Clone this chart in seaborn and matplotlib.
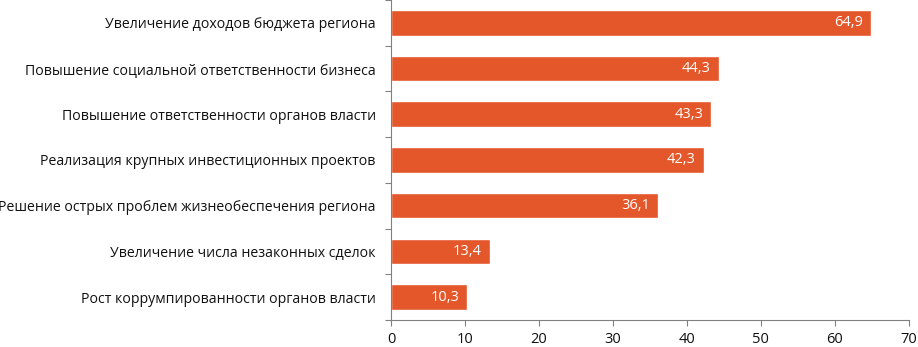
import numpy as np
import pandas as pd
import seaborn as sns
from matplotlib import pyplot as plt
from matplotlib.ticker import FixedLocator

categories = [
    'Увеличение доходов бюджета региона',
    'Повышение социальной ответственности бизнеса',
    'Повышение ответственности органов власти',
    'Реализация крупных инвестиционных проектов',
    'Решение острых проблем жизнеобеспечения региона',
    'Увеличение числа незаконных сделок',
    'Рост коррумпированности органов власти',
]
values = [64.9, 44.3, 43.3, 42.3, 36.1, 13.4, 10.3]
x_ticks = [0, 10, 20, 30, 40, 50, 60, 70]

df = pd.DataFrame({'cat': categories, 'val': values})

sns.set_style('white')
plt.rcParams['font.family'] = ['Open Sans', 'DejaVu Sans']

fig = plt.figure(figsize=(9.18, 3.47), dpi=100)
ax = fig.add_axes([0.426, 0.078, 0.564, 0.922])
sns.barplot(data=df, x='val', y='cat', color='#E4572A', width=0.56,
            saturation=1, ax=ax)

for i, v in enumerate(values):
    ax.text(v - 1.1, i, ('%.1f' % v).replace('.', ','), color='white',
            ha='right', va='center', fontsize=10.5)

ax.set_xlim(0, 70)
ax.set_ylim(len(categories) - 0.5, -0.5)
ax.set_xticks(x_ticks)
ax.set_xlabel('')
ax.set_ylabel('')
ax.tick_params(axis='x', labelsize=10.5, length=4, width=0.8, color='#808080',
               direction='out', bottom=True, pad=5, labelcolor='#111111')
ax.tick_params(axis='y', which='major', length=0, labelsize=10.2, pad=11,
               labelcolor='#111111')
ax.yaxis.set_minor_locator(FixedLocator(np.arange(-0.5, len(categories), 1.0)))
ax.tick_params(axis='y', which='minor', length=4, width=0.8, color='#808080',
               direction='out', left=True)
for s in ['top', 'right']:
    ax.spines[s].set_visible(False)
for s in ['left', 'bottom']:
    ax.spines[s].set_color('#808080')
    ax.spines[s].set_linewidth(0.8)

fig.savefig('out.png', dpi=100)
